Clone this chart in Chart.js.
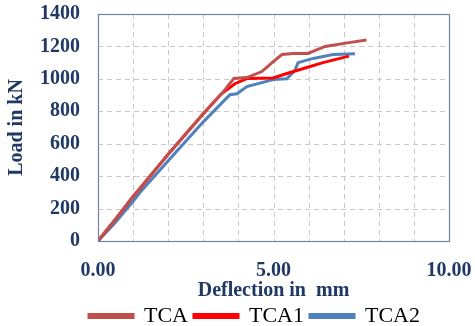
<!DOCTYPE html>
<html>
<head>
<meta charset="utf-8">
<script src="https://cdn.jsdelivr.net/npm/chart.js@4/dist/chart.umd.min.js"></script>
<style>
  html, body { margin: 0; padding: 0; background: #fff; }
  #wrap { width: 475px; height: 326px; }
</style>
</head>
<body>
<div id="wrap"><canvas id="loadChart" width="475" height="326"></canvas></div>
<script>
// deflection (mm) / load (kN)
const tcaX = [0, 0.5, 1.0, 1.2, 2.0, 3.0, 3.55, 3.87, 4.24, 4.67, 4.96, 5.24, 5.56, 5.98, 6.47, 7.1, 7.65];
const tcaY = [0, 135, 275, 325, 535, 785, 915, 1002, 1008, 1045, 1100, 1150, 1157, 1157, 1200, 1222, 1240];

const tca1X = [0, 0.5, 1.0, 1.2, 2.0, 3.0, 3.5, 3.9, 4.24, 4.99, 5.38, 5.95, 6.41, 7.15];
const tca1Y = [0, 135, 275, 325, 535, 785, 905, 970, 1002, 1005, 1033, 1070, 1100, 1140];

const tca2X = [0, 0.5, 1.0, 1.2, 2.0, 3.0, 3.76, 3.96, 4.24, 4.67, 4.99, 5.38, 5.61, 5.7, 6.13, 6.7, 7.32];
const tca2Y = [0, 115, 245, 300, 495, 735, 902, 908, 952, 977, 996, 1000, 1052, 1100, 1126, 1150, 1155];

const seriesNames = ['TCA', 'TCA1', 'TCA2'];
const seriesColors = ['#C0504D', '#FF0000', '#4F81BD'];

const toPts = (xs, ys) => xs.map((x, i) => ({ x: x, y: ys[i] }));

const navy = '#1F3864';
const serif = "'Liberation Serif', 'Times New Roman', serif";

// dashed grid + solid frame round the plot area
const gridFrame = {
  id: 'gridFrame',
  beforeDatasetsDraw(chart) {
    const a = chart.chartArea;
    const ctx = chart.ctx;
    const xs = chart.scales.x, ys = chart.scales.y;
    ctx.save();
    ctx.strokeStyle = '#C8C8C8';
    ctx.lineWidth = 1;
    ctx.setLineDash([5, 4]);
    xs.ticks.forEach(t => {
      const px = Math.round(xs.getPixelForValue(t.value)) + 0.5;
      ctx.beginPath(); ctx.moveTo(px, a.top); ctx.lineTo(px, a.bottom); ctx.stroke();
    });
    ys.ticks.forEach(t => {
      const py = Math.round(ys.getPixelForValue(t.value)) + 0.5;
      ctx.beginPath(); ctx.moveTo(a.left, py); ctx.lineTo(a.right, py); ctx.stroke();
    });
    ctx.restore();
  },
  afterDraw(chart) {
    const a = chart.chartArea;
    const ctx = chart.ctx;
    ctx.save();
    ctx.strokeStyle = '#7083A3';
    ctx.lineWidth = 1.2;
    ctx.strokeRect(Math.round(a.left) + 0.5, Math.round(a.top) + 0.5, Math.round(a.right - a.left), Math.round(a.bottom - a.top));
    ctx.restore();
  }
};

new Chart(document.getElementById('loadChart'), {
  type: 'line',
  data: {
    datasets: [
      { label: seriesNames[0], data: toPts(tcaX, tcaY), borderColor: seriesColors[0], backgroundColor: seriesColors[0] },
      { label: seriesNames[1], data: toPts(tca1X, tca1Y), borderColor: seriesColors[1], backgroundColor: seriesColors[1] },
      { label: seriesNames[2], data: toPts(tca2X, tca2Y), borderColor: seriesColors[2], backgroundColor: seriesColors[2] }
    ]
  },
  options: {
    responsive: false,
    animation: false,
    elements: {
      point: { radius: 0 },
      line: { borderWidth: 3, tension: 0 }
    },
    layout: { padding: { top: 14, right: 0, left: 34, bottom: -11 } },
    plugins: {
      legend: {
        position: 'bottom',
        labels: {
          color: '#000',
          font: { family: serif, size: 22, lineHeight: 1 },
          boxWidth: 44,
          boxHeight: 3,
          padding: 6
        }
      },
      tooltip: { enabled: false }
    },
    scales: {
      x: {
        type: 'linear',
        min: 0,
        max: 10,
        afterFit: s => { s.height = 58; s.paddingLeft = 0; s.paddingRight = 26; },
        ticks: {
          stepSize: 1,
          padding: 10,
          color: navy,
          font: { family: serif, size: 20, weight: 'bold' },
          maxRotation: 0,
          autoSkip: false,
          callback: v => (v % 5 === 0 ? v.toFixed(2) : '')
        },
        grid: { display: false },
        border: { display: false },
        title: {
          display: true,
          text: 'Deflection in  mm',
          color: navy,
          font: { family: serif, size: 20, weight: 'bold' },
          padding: { top: 0, bottom: -4 }
        }
      },
      y: {
        min: 0,
        max: 1400,
        afterFit: s => { s.width = 64; s.paddingTop = 0; s.paddingBottom = 0; },
        ticks: {
          stepSize: 200,
          padding: 10,
          color: navy,
          font: { family: serif, size: 20, weight: 'bold' },
          callback: v => String(v)
        },
        grid: { display: false },
        border: { display: false },
        title: {
          display: true,
          text: 'Load in kN',
          color: navy,
          font: { family: serif, size: 20, weight: 'bold' },
          padding: { top: -29, bottom: 0 }
        }
      }
    }
  },
  plugins: [gridFrame]
});
</script>
</body>
</html>
